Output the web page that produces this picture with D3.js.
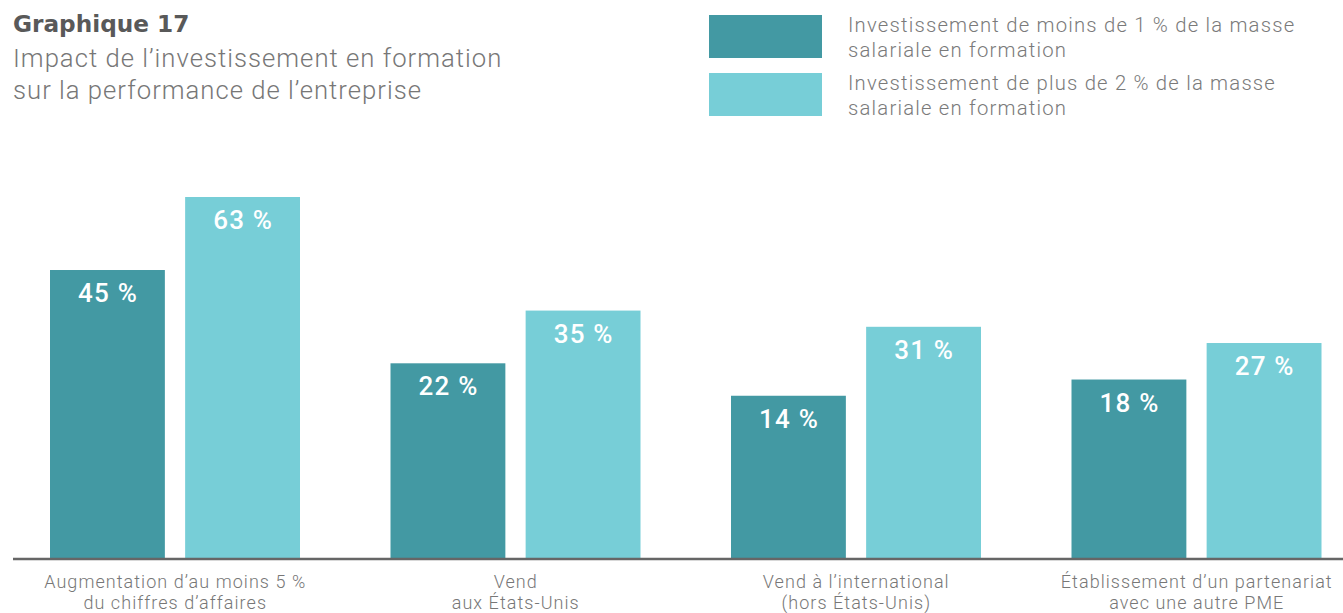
<!DOCTYPE html>
<html>
<head>
<meta charset="utf-8">
<script src="https://cdn.jsdelivr.net/npm/d3@7"></script>
<style>
  html, body { margin: 0; padding: 0; background: #fff; }
  svg { display: block; }
</style>
</head>
<body>
<svg id="chart" width="1343" height="613"></svg>
<script>
// Chart data
const categories = [
  ["Augmentation d’au moins 5 %", "du chiffres d’affaires"],
  ["Vend", "aux États-Unis"],
  ["Vend à l’international", "(hors États-Unis)"],
  ["Établissement d’un partenariat", "avec une autre PME"]
];
const seriesNames = [
  ["Investissement de moins de 1 % de la masse", "salariale en formation"],
  ["Investissement de plus de 2 % de la masse", "salariale en formation"]
];
const lowInvest = [45, 22, 14, 18];
const highInvest = [63, 35, 31, 27];
const colors = ["#4399a3", "#77ced7"];

const svg = d3.select("#chart");
const W = 1343;
const LIGHT = "Roboto, sans-serif";

// Titles
svg.append("text").attr("x", 13).attr("y", 32)
  .attr("font-family", "'DejaVu Sans', sans-serif").attr("font-weight", 700)
  .attr("font-size", 23.2).attr("fill", "#595959").text("Graphique 17");
const subtitle = ["Impact de l’investissement en formation", "sur la performance de l’entreprise"];
svg.append("g").selectAll("text").data(subtitle).join("text")
  .attr("x", 13).attr("y", (d, i) => 67 + i * 32)
  .attr("font-family", LIGHT).attr("font-weight", 300)
  .attr("font-size", 25.7).attr("letter-spacing", 1.0)
  .attr("fill", "#777").text(d => d);

// Legend
const legend = svg.append("g");
seriesNames.forEach((lines, i) => {
  const y0 = 15 + i * 58;
  legend.append("rect").attr("x", 709).attr("y", y0).attr("width", 113).attr("height", 43)
    .attr("fill", colors[i]);
  lines.forEach((t, j) => {
    legend.append("text").attr("x", 848).attr("y", y0 + 17 + j * 25)
      .attr("font-family", LIGHT).attr("font-weight", 300)
      .attr("font-size", 20.3).attr("letter-spacing", 1.2)
      .attr("fill", "#7a7a7a").text(t);
  });
});

// Scales
const baseY = 558;
const x0 = d3.scaleBand().domain(d3.range(categories.length)).range([6, 1368]);
const x1 = d3.scaleBand().domain([0, 1]).range([44, 294]).paddingInner(0.15);
const y = d3.scaleLinear().domain([-26, 63]).range([baseY, 197]);

const series = [lowInvest, highInvest];
const groups = svg.append("g").selectAll("g").data(categories).join("g")
  .attr("transform", (d, i) => `translate(${x0(i)},0)`);

groups.each(function(cat, ci) {
  const g = d3.select(this);
  series.forEach((vals, si) => {
    const v = vals[ci];
    g.append("rect")
      .attr("x", x1(si)).attr("width", x1.bandwidth())
      .attr("y", y(v)).attr("height", baseY - y(v))
      .attr("fill", colors[si]);
    g.append("text")
      .attr("x", x1(si) + x1.bandwidth() / 2 + 0.6).attr("y", y(v) + 32)
      .attr("text-anchor", "middle")
      .attr("font-family", LIGHT).attr("font-weight", 500)
      .attr("font-size", 26).attr("letter-spacing", 1.2)
      .attr("fill", "#fff").text(v + " %");
  });
  cat.forEach((t, j) => {
    g.append("text")
      .attr("x", x0.bandwidth() / 2 - 1).attr("y", 588 + j * 20.5)
      .attr("text-anchor", "middle")
      .attr("font-family", LIGHT).attr("font-weight", 300)
      .attr("font-size", 18).attr("letter-spacing", 1.05)
      .attr("fill", "#777").text(t);
  });
});

// Baseline axis
svg.append("line").attr("x1", 13).attr("x2", W).attr("y1", baseY + 1).attr("y2", baseY + 1)
  .attr("stroke", "#666").attr("stroke-width", 2.5);
</script>
</body>
</html>
